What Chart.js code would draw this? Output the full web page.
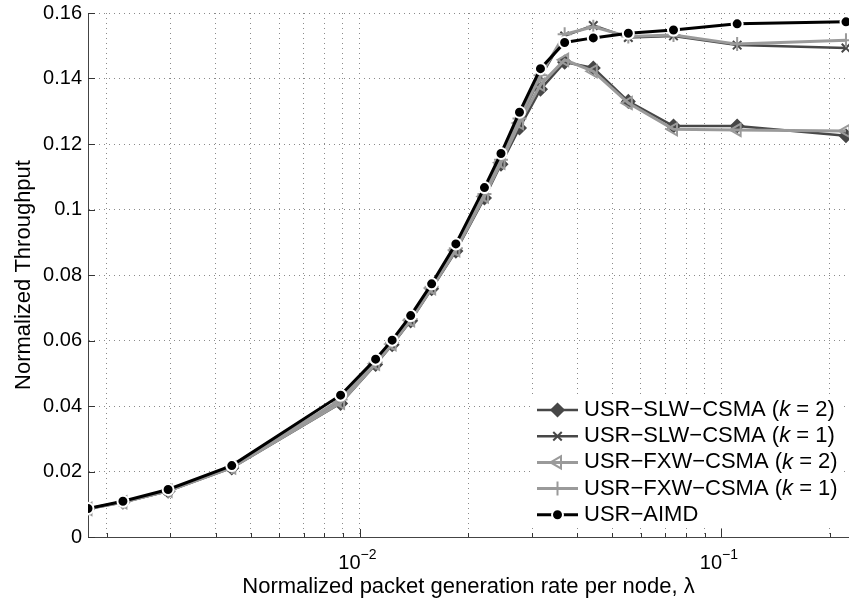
<!DOCTYPE html>
<html><head><meta charset="utf-8">
<script src="https://cdn.jsdelivr.net/npm/chart.js@4/dist/chart.umd.min.js"></script>
<style>html,body{margin:0;padding:0;background:#fff}canvas{display:block}</style>
</head><body>
<canvas id="c" width="849" height="600"></canvas>
<script>
// ---- data ----
const lambdaValues = [0.001774, 0.002216, 0.002955, 0.004432, 0.008864, 0.01108, 0.01231, 0.01385, 0.01583, 0.01847, 0.02216, 0.02462, 0.02770, 0.03166, 0.03693, 0.04432, 0.05540, 0.07387, 0.1108, 0.2216];
const slwK2 = [0.0086, 0.0106, 0.0140, 0.0211, 0.0408, 0.0527, 0.0587, 0.0660, 0.0758, 0.0873, 0.1035, 0.1138, 0.1249, 0.1367, 0.1450, 0.1432, 0.1330, 0.1255, 0.1255, 0.1225];
const slwK1 = [0.0086, 0.0107, 0.0141, 0.0213, 0.0418, 0.0532, 0.0592, 0.0665, 0.0763, 0.0880, 0.1045, 0.1150, 0.1275, 0.1405, 0.1530, 0.1562, 0.1525, 0.1530, 0.1502, 0.1493];
const fxwK2 = [0.0086, 0.0106, 0.0141, 0.0212, 0.0410, 0.0529, 0.0589, 0.0662, 0.0760, 0.0876, 0.1040, 0.1143, 0.1264, 0.1381, 0.1457, 0.1422, 0.1325, 0.1245, 0.1243, 0.1240];
const fxwK1 = [0.0086, 0.0107, 0.0141, 0.0214, 0.0420, 0.0533, 0.0593, 0.0666, 0.0764, 0.0882, 0.1047, 0.1152, 0.1278, 0.1410, 0.1535, 0.1558, 0.1528, 0.1533, 0.1505, 0.1517];
const aimd  = [0.0087, 0.0109, 0.0145, 0.0218, 0.0433, 0.0543, 0.0601, 0.0676, 0.0773, 0.0895, 0.1067, 0.1171, 0.1297, 0.1430, 0.1510, 0.1524, 0.1538, 0.1548, 0.1567, 0.1573];
const seriesLabels = ['USR\u2212SLW\u2212CSMA (k = 2)', 'USR\u2212SLW\u2212CSMA (k = 1)', 'USR\u2212FXW\u2212CSMA (k = 2)', 'USR\u2212FXW\u2212CSMA (k = 1)', 'USR\u2212AIMD'];
const yTickValues = [0, 0.02, 0.04, 0.06, 0.08, 0.1, 0.12, 0.14, 0.16];
const xGridValues = [0.002, 0.003, 0.004, 0.005, 0.006, 0.007, 0.008, 0.009, 0.01, 0.02, 0.03, 0.04, 0.05, 0.06, 0.07, 0.08, 0.09, 0.1, 0.2];
const xLabelValues = [0.01, 0.1];
const xLabelExponents = ['\u22122', '\u22121'];
const xTitle = 'Normalized packet generation rate per node, \u03bb';
const yTitle = 'Normalized Throughput';

const FONT = '"Liberation Sans", Arial, Helvetica, sans-serif';
const DARK = '#474747', LIGHT = '#9a9a9a';

const styles = [
  {color: DARK,  point: 'rectRot',  radius: 6.5, fill: DARK,  bw: 1.5, lw: 2.5, rot: 0},
  {color: DARK,  point: 'crossRot', radius: 6, fill: DARK,  bw: 2,   lw: 2.5, rot: 0},
  {color: LIGHT, point: 'triangle', radius: 7, fill: 'rgba(0,0,0,0)', bw: 2, lw: 3, rot: -90},
  {color: LIGHT, point: 'cross',    radius: 7, fill: LIGHT, bw: 2,   lw: 3, rot: 0},
  {color: '#000', point: 'circle',  radius: 5.5, fill: '#000', bw: 2, lw: 3, rot: 0, border: '#fff'}
];
const seriesValues = [slwK2, slwK1, fxwK2, fxwK1, aimd];

const datasets = seriesValues.map((vals, i) => {
  const s = styles[i];
  return {
    label: seriesLabels[i],
    data: vals.map((v, j) => ({x: lambdaValues[j], y: v})),
    borderColor: s.color,
    borderWidth: s.lw,
    backgroundColor: s.fill,
    pointStyle: s.point,
    pointRadius: s.radius,
    pointHoverRadius: s.radius,
    pointBackgroundColor: s.fill,
    pointBorderColor: s.border || s.color,
    pointBorderWidth: s.bw,
    pointRotation: s.rot,
    tension: 0,
    fill: false,
    order: 5 - i
  };
});

function drawMarker(ctx, s, x, y) {
  const r = s.radius;
  ctx.save();
  ctx.lineWidth = s.bw;
  ctx.strokeStyle = s.border || s.color;
  ctx.fillStyle = s.fill;
  ctx.beginPath();
  if (s.point === 'rectRot') {
    ctx.moveTo(x, y - r); ctx.lineTo(x + r, y); ctx.lineTo(x, y + r); ctx.lineTo(x - r, y); ctx.closePath();
    ctx.fill(); ctx.stroke();
  } else if (s.point === 'crossRot') {
    const d = r * Math.SQRT1_2;
    ctx.moveTo(x - d, y - d); ctx.lineTo(x + d, y + d);
    ctx.moveTo(x + d, y - d); ctx.lineTo(x - d, y + d);
    ctx.stroke();
  } else if (s.point === 'triangle') {
    let rad = s.rot * Math.PI / 180;
    ctx.moveTo(x + Math.sin(rad) * r, y - Math.cos(rad) * r);
    rad += 2 * Math.PI / 3;
    ctx.lineTo(x + Math.sin(rad) * r, y - Math.cos(rad) * r);
    rad += 2 * Math.PI / 3;
    ctx.lineTo(x + Math.sin(rad) * r, y - Math.cos(rad) * r);
    ctx.closePath();
    ctx.fill(); ctx.stroke();
  } else if (s.point === 'cross') {
    ctx.moveTo(x, y - r); ctx.lineTo(x, y + r);
    ctx.moveTo(x - r, y); ctx.lineTo(x + r, y);
    ctx.stroke();
  } else {
    ctx.arc(x, y, r, 0, Math.PI * 2);
    ctx.fill(); ctx.stroke();
  }
  ctx.restore();
}

const overlay = {
  id: 'overlay',
  afterDraw(chart) {
    const ctx = chart.ctx, xs = chart.scales.x, ys = chart.scales.y, ca = chart.chartArea;
    ctx.save();
    // inward tick marks
    ctx.strokeStyle = '#333'; ctx.lineWidth = 1;
    ctx.beginPath();
    yTickValues.forEach(v => {
      const p = Math.round(ys.getPixelForValue(v)) + 0.5;
      ctx.moveTo(ca.left, p); ctx.lineTo(ca.left + 7, p);
    });
    xGridValues.forEach(v => {
      const p = Math.round(xs.getPixelForValue(v)) + 0.5;
      const len = xLabelValues.includes(v) ? 8 : 4;
      ctx.moveTo(p, ca.bottom); ctx.lineTo(p, ca.bottom - len);
    });
    ctx.stroke();
    // x tick labels 10^n
    ctx.fillStyle = '#000';
    ctx.textBaseline = 'alphabetic';
    xLabelValues.forEach((v, i) => {
      const p = xs.getPixelForValue(v);
      ctx.font = '20px ' + FONT;
      ctx.textAlign = 'right';
      ctx.fillText('10', p + 1, 569);
      ctx.font = '14px ' + FONT;
      ctx.textAlign = 'left';
      ctx.fillText(xLabelExponents[i], p + 1, 559);
    });
    // axis titles
    ctx.font = '22px ' + FONT;
    ctx.textAlign = 'center';
    ctx.fillText(xTitle, (ca.left + ca.right) / 2, 593);
    ctx.save();
    ctx.translate(30, (ca.top + ca.bottom) / 2);
    ctx.rotate(-Math.PI / 2);
    ctx.fillText(yTitle, 0, 0);
    ctx.restore();
    // legend
    const lx = 532, ly = 394, lw = 311, lh = 134;
    ctx.fillStyle = '#fff';
    ctx.fillRect(lx, ly, lw, lh);
    const rowH = 26.2, firstY = 410;
    seriesLabels.forEach((lab, i) => {
      const s = styles[i];
      const y = firstY + i * rowH;
      ctx.strokeStyle = s.color; ctx.lineWidth = s.lw;
      ctx.beginPath(); ctx.moveTo(537, y); ctx.lineTo(578, y); ctx.stroke();
      drawMarker(ctx, s, 557.5, y);
      ctx.fillStyle = '#000';
      ctx.textAlign = 'left'; ctx.textBaseline = 'middle';
      let tx = 584;
      const k = lab.indexOf('(k');
      if (k >= 0) {
        const a = lab.slice(0, k + 1), b = 'k', c = lab.slice(k + 2);
        ctx.font = '22px ' + FONT; ctx.fillText(a, tx, y); tx += ctx.measureText(a).width;
        ctx.font = 'italic 22px ' + FONT; ctx.fillText(b, tx, y); tx += ctx.measureText(b).width;
        ctx.font = '22px ' + FONT; ctx.fillText(c, tx, y);
      } else {
        ctx.font = '22px ' + FONT; ctx.fillText(lab, tx, y);
      }
    });
    ctx.restore();
  }
};

new Chart(document.getElementById('c'), {
  type: 'line',
  data: {datasets},
  options: {
    responsive: false,
    animation: false,
    devicePixelRatio: 1,
    layout: {autoPadding: false, padding: {top: 13, left: 0, right: 0, bottom: 0}},
    plugins: {legend: {display: false}, tooltip: {enabled: false}, title: {display: false}},
    scales: {
      x: {
        type: 'logarithmic',
        min: 0.001774,
        max: 0.2259,
        afterBuildTicks: sc => { sc.ticks = xGridValues.map(v => ({value: v})); },
        afterFit: sc => { sc.height = 63; sc.paddingLeft = 0; sc.paddingRight = 0; },
        ticks: {display: false},
        grid: {color: '#8a8a8a', lineWidth: 1, drawTicks: false},
        border: {display: true, color: '#444', width: 1, dash: [1, 4]}
      },
      y: {
        type: 'linear',
        min: 0,
        max: 0.16,
        afterBuildTicks: sc => { sc.ticks = yTickValues.map(v => ({value: v})); },
        afterFit: sc => { sc.width = 88; sc.paddingTop = 0; sc.paddingBottom = 0; },
        ticks: {
          color: '#000',
          padding: 6,
          font: {family: FONT, size: 20},
          callback: v => String(Number(v.toFixed(2)))
        },
        grid: {color: '#8a8a8a', lineWidth: 1, drawTicks: false},
        border: {display: true, color: '#444', width: 1, dash: [1, 4]}
      }
    }
  },
  plugins: [overlay]
});
</script>
</body></html>
